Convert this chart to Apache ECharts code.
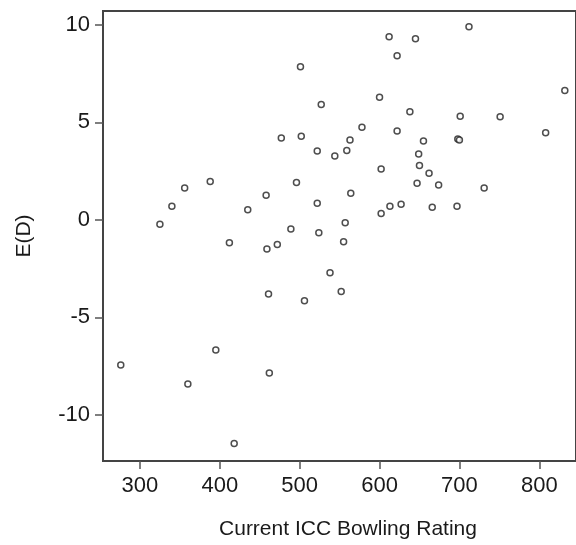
<!DOCTYPE html>
<html>
<head>
<meta charset="utf-8">
<title>E(D) vs Current ICC Bowling Rating</title>
<script src="https://cdn.jsdelivr.net/npm/echarts@6/dist/echarts.min.js"></script>
<style>
  html, body { margin: 0; padding: 0; background: #fff; }
  #chart { width: 576px; height: 545px; }
</style>
</head>
<body>
<div id="chart"></div>
<script>
// x: current ICC bowling rating, y: E(D)
const ratings = [712, 612, 645, 622, 501, 527, 600, 638, 701, 578, 622, 477, 502, 563, 655, 698, 700, 522, 544, 559,
  649, 751, 832, 808, 356, 388, 340, 325, 458, 435, 412, 459, 472, 461, 650, 662, 602, 647, 674, 496,
  564, 522, 602, 613, 627, 666, 697, 489, 524, 557, 555, 538, 552, 506, 731, 276, 360, 395, 462, 418];
const edValues = [9.90, 9.39, 9.29, 8.41, 7.85, 5.92, 6.29, 5.54, 5.31, 4.75, 4.55, 4.19, 4.29, 4.09, 4.04, 4.14, 4.09, 3.53, 3.27, 3.56,
  3.38, 5.29, 6.63, 4.46, 1.63, 1.97, 0.70, -0.23, 1.26, 0.51, -1.18, -1.50, -1.27, -3.81, 2.78, 2.39, 2.61, 1.88, 1.78, 1.92,
  1.36, 0.85, 0.33, 0.70, 0.80, 0.65, 0.70, -0.47, -0.66, -0.15, -1.13, -2.72, -3.68, -4.15, 1.63, -7.44, -8.42, -6.68, -7.86, -11.47];
const xTicks = [300, 400, 500, 600, 700, 800];
const yTicks = [-10, -5, 0, 5, 10];

const points = ratings.map((r, i) => [r, edValues[i]]);

const chart = echarts.init(document.getElementById("chart"), null, { renderer: "canvas" });
const font = "'Liberation Sans', Arial, sans-serif";
const lineColor = "#444";

chart.setOption({
  animation: false,
  backgroundColor: "#fff",
  grid: {
    left: 103,
    right: -3,
    top: 11,
    bottom: 80,
    show: true,
    borderColor: lineColor,
    borderWidth: 2,
  },
  xAxis: {
    type: "value",
    min: 253.75,
    max: 846,
    name: "Current ICC Bowling Rating",
    nameLocation: "middle",
    nameGap: 58,
    // the original frame is cut at the right edge, so nudge the title right
    nameTextStyle: { fontFamily: font, fontSize: 21, color: "#1a1a1a", padding: [0, 0, 0, 17] },
    axisLine: { show: true, onZero: false, lineStyle: { color: lineColor, width: 2 } },
    axisTick: { show: true, customValues: xTicks, length: 8, lineStyle: { color: "#555", width: 1.5 } },
    axisLabel: { customValues: xTicks, margin: 14, fontFamily: font, fontSize: 22, color: "#1a1a1a" },
    splitLine: { show: false },
  },
  yAxis: {
    type: "value",
    min: -12.37,
    max: 10.71,
    name: "E(D)",
    nameLocation: "middle",
    nameGap: 68,
    nameTextStyle: { fontFamily: font, fontSize: 21, color: "#1a1a1a" },
    axisLine: { show: true, onZero: false, lineStyle: { color: lineColor, width: 2 } },
    axisTick: { show: true, customValues: yTicks, length: 8, lineStyle: { color: "#555", width: 1.5 } },
    axisLabel: { customValues: yTicks, margin: 13, fontFamily: font, fontSize: 22, color: "#1a1a1a" },
    splitLine: { show: false },
  },
  series: [
    {
      type: "scatter",
      data: points,
      symbol: "circle",
      symbolSize: 6,
      itemStyle: { color: "#fff", borderColor: "#222", borderWidth: 1.5 },
    },
  ],
});
</script>
</body>
</html>
